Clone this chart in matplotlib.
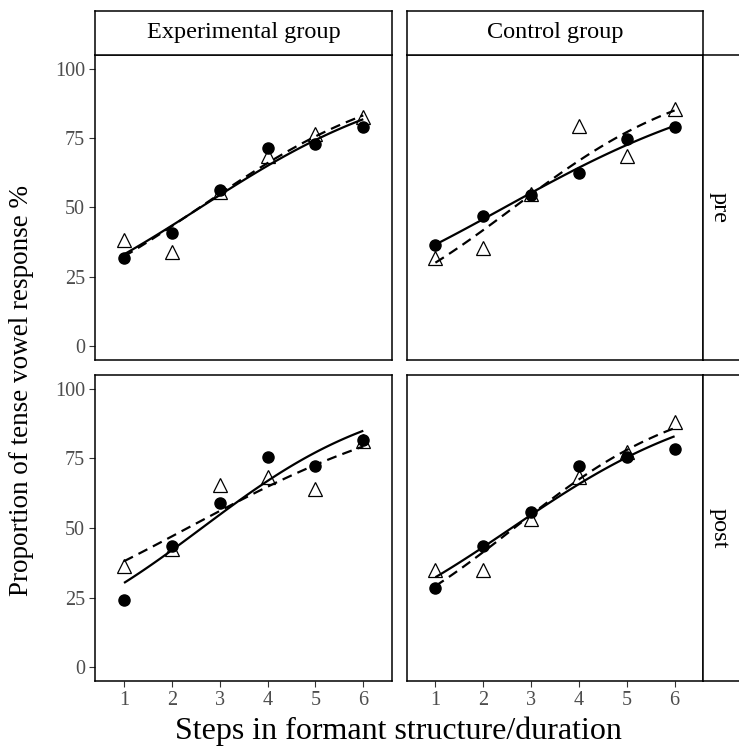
#!/usr/bin/env python3

import numpy as np
import matplotlib
matplotlib.use("Agg")
import matplotlib.pyplot as plt

plt.rcParams['font.family'] = ['Liberation Serif', 'DejaVu Serif']

# steps on the x axis
steps = [1, 2, 3, 4, 5, 6]

# proportion of tense vowel responses (%)
# circles = filled points (solid fit), triangles = open points (dashed fit)
exp_pre_circle = [31.8, 40.8, 56.3, 71.3, 72.8, 78.9]
exp_pre_tri = [38.2, 33.8, 55.5, 68.6, 76.5, 82.4]
ctl_pre_circle = [36.4, 47.0, 54.5, 62.3, 74.6, 78.9]
ctl_pre_tri = [31.9, 35.2, 54.8, 79.4, 68.6, 85.4]
exp_post_circle = [24.0, 43.7, 58.9, 75.4, 72.4, 81.7]
exp_post_tri = [36.5, 42.5, 65.3, 68.2, 64.1, 81.4]
ctl_post_circle = [28.5, 43.7, 55.9, 72.4, 75.4, 78.4]
ctl_post_tri = [35.0, 35.0, 53.3, 68.2, 77.2, 88.0]

col_labels = ["Experimental group", "Control group"]
row_labels = ["pre", "post"]
panels = [[(exp_pre_circle, exp_pre_tri), (ctl_pre_circle, ctl_pre_tri)],
          [(exp_post_circle, exp_post_tri), (ctl_post_circle, ctl_post_tri)]]


def logistic_fit(x, pct):
    # binomial glm (logit link) on proportions, like geom_smooth(method="glm")
    x = np.asarray(x, float)
    p = np.asarray(pct, float) / 100
    X = np.column_stack([np.ones_like(x), x])
    b = np.zeros(2)
    for _ in range(50):
        mu = 1 / (1 + np.exp(-X @ b))
        w = mu * (1 - mu)
        z = X @ b + (p - mu) / w
        b = np.linalg.solve(X.T @ (w[:, None] * X), X.T @ (w * z))
    xs = np.linspace(x.min(), x.max(), 80)
    return xs, 100 / (1 + np.exp(-(b[0] + b[1] * xs)))


W, H = 739, 753
fig = plt.figure(figsize=(W / 100, H / 100), dpi=100)

col_x = [(95.3, 392.0), (406.7, 703.3)]
row_y = [(54.7, 360.0), (375.0, 681.0)]


def px_rect(x0, x1, y0, y1):
    return [x0 / W, 1 - y1 / H, (x1 - x0) / W, (y1 - y0) / H]


for r in range(2):
    for c in range(2):
        ax = fig.add_axes(px_rect(*col_x[c], *row_y[r]))
        circ, tri = panels[r][c]
        xs, ys = logistic_fit(steps, circ)
        ax.plot(xs, ys, color='black', lw=1.6, solid_capstyle='butt')
        xs, ys = logistic_fit(steps, tri)
        ax.plot(xs, ys, color='black', lw=1.6, linestyle=(0, (4.5, 2.8)))
        ax.plot(steps, circ, 'o', color='black', ms=8, zorder=3)
        ax.plot(steps, tri, '^', mfc='none', mec='black', mew=0.9, ms=10, zorder=3)

        ax.set_xlim(0.4, 6.6)
        ax.set_ylim(-5, 105)
        ax.set_xticks(steps)
        ax.set_yticks([0, 25, 50, 75, 100])
        ax.tick_params(length=4, width=0.8, color='#333333', labelcolor='#4d4d4d',
                       labelsize=14.5)
        if c == 1:
            ax.tick_params(labelleft=False, left=False)
        if r == 0:
            ax.tick_params(labelbottom=False, bottom=False)
        for s in ax.spines.values():
            s.set_linewidth(1.1)

        # strips
        if r == 0:
            sax = fig.add_axes(px_rect(col_x[c][0], col_x[c][1], 10.5, 54.7))
            sax.set_xticks([])
            sax.set_yticks([])
            for s in sax.spines.values():
                s.set_linewidth(1.1)
            sax.text(0.5, 0.5, col_labels[c], ha='center', va='center',
                     fontsize=17.5, transform=sax.transAxes)
        if c == 1:
            sax = fig.add_axes(px_rect(703.3, 748, *row_y[r]))
            sax.set_xticks([])
            sax.set_yticks([])
            for s in sax.spines.values():
                s.set_linewidth(1.1)
            sax.text(0.35, 0.5, row_labels[r], ha='center', va='center',
                     fontsize=17.5, rotation=-90, transform=sax.transAxes)

fig.text(398 / W, 1 - 731 / H, "Steps in formant structure/duration",
         ha='center', va='center', fontsize=23)
fig.text(22 / W, 1 - 391 / H, "Proportion of tense vowel response %",
         ha='center', va='center', fontsize=19.5, rotation=90)

fig.savefig("out.png", dpi=100)
